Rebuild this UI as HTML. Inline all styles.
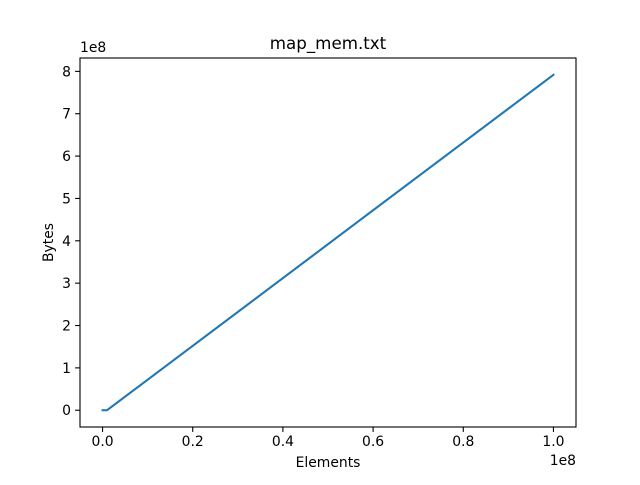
<!DOCTYPE html>
<html><head><meta charset="utf-8"><style>
body{margin:0;background:#fff;font-family:"Liberation Sans","DejaVu Sans",sans-serif;}
svg text{font-family:"DejaVu Sans","Liberation Sans",sans-serif;font-size:13.9px;fill:#000;}
</style></head><body>
<svg id="c" width="640" height="480">
<rect x="0" y="0" width="640" height="480" fill="#fff"/>
<g id="g"></g>
</svg>
<script>
const xs = [0, 1000000, 100000000];
const ys = [0, 0, 792000000];
const xTicks = [0, 0.2, 0.4, 0.6, 0.8, 1.0];
const yTicks = [0, 1, 2, 3, 4, 5, 6, 7, 8];
const L=80,R=576,T=58,B=427;
const xmin=Math.min(...xs),xmax=Math.max(...xs),ymin=Math.min(...ys),ymax=Math.max(...ys);
const xl=xmin-0.05*(xmax-xmin),xh=xmax+0.05*(xmax-xmin);
const yl=ymin-0.05*(ymax-ymin),yh=ymax+0.05*(ymax-ymin);
const sx=v=>L+(v-xl)/(xh-xl)*(R-L);
const sy=v=>B-(v-yl)/(yh-yl)*(B-T);
const g=document.getElementById('g');
const NS='http://www.w3.org/2000/svg';
function mk(t,a,txt){const e=document.createElementNS(NS,t);for(const k in a)e.setAttribute(k,a[k]);if(txt!==undefined)e.textContent=txt;g.appendChild(e);return e;}
let d=xs.map((x,i)=>(i?'L':'M')+sx(x).toFixed(2)+' '+sy(ys[i]).toFixed(2)).join(' ');
let p=mk('path',{d:d,fill:'none',stroke:'#1f77b4','stroke-width':2.08,'stroke-linecap':'square'});


let fr=mk('rect',{x:L,y:T,width:R-L,height:B-T,fill:'none',stroke:'#000','stroke-width':1.1});


xTicks.forEach(t=>{const X=sx(t*1e8);mk('line',{x1:X,x2:X,y1:B,y2:B+4.9,stroke:'#000','stroke-width':1.1});
const e=mk('text',{x:X,y:B+19,'text-anchor':'middle'},t.toFixed(1));

});
yTicks.forEach(t=>{const Y=sy(t*1e8);mk('line',{x1:L-4.9,x2:L,y1:Y,y2:Y,stroke:'#000','stroke-width':1.1});
const e=mk('text',{x:L-9,y:Y+5,'text-anchor':'end'},String(t));

});
let e;
e=mk('text',{x:R,y:B+38,'text-anchor':'end'},'1e8');
e=mk('text',{x:L,y:T-6,'text-anchor':'start'},'1e8');
e=mk('text',{x:(L+R)/2,y:467,'text-anchor':'middle'},'Elements');
e=mk('text',{x:0,y:0,'text-anchor':'middle',transform:'translate(53,'+((T+B)/2)+') rotate(-90)'},'Bytes');
e=mk('text',{x:(L+R)/2,y:49,'text-anchor':'middle',style:'font-size:16.7px'},'map_mem.txt');
</script>
</body></html>
